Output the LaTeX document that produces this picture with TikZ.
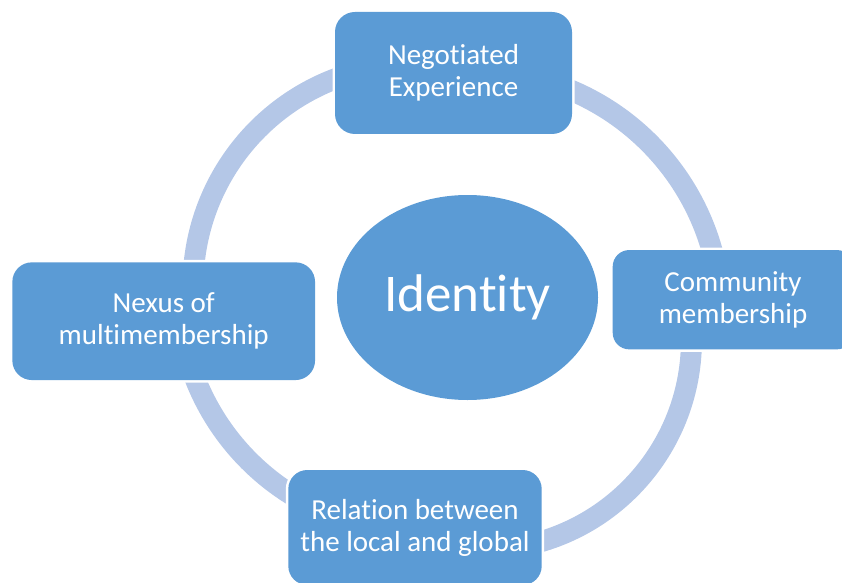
\documentclass[tikz,border=0pt]{standalone}
\usepackage{fontspec}
\setmainfont{Carlito}[Ligatures=NoCommon]
\usetikzlibrary{shapes.geometric,backgrounds}
\definecolor{boxblue}{HTML}{5B9BD5}
\definecolor{ringblue}{HTML}{B4C7E7}
\begin{document}
\begin{tikzpicture}[x=1pt,y=1pt,
  stagebox/.style={rectangle, rounded corners=#1, fill=boxblue, text=white,
    align=center, inner sep=0pt, font=\fontsize{29}{32}\selectfont,
    preaction={draw=white, line width=5pt}},
  hub/.style={ellipse, fill=boxblue, text=white, inner sep=0pt,
    font=\fontsize{53}{60}\selectfont},
  ring/.style={draw=ringblue, line width=21pt}
]
\useasboundingbox (0,0) rectangle (842,582);
\clip (0,0) rectangle (842,582);

% the four stages around the centre
\node[stagebox=20pt, minimum width=237pt, minimum height=122pt] (negot) at (453.5,509)
  {Negotiated\\Experience};
\node[stagebox=16.5pt, minimum width=240.6pt, minimum height=99.3pt] (commun) at (733,282.3)
  {Community\\membership};
\node[stagebox=19pt, minimum width=253.4pt, minimum height=115pt] (relat) at (415,54.5)
  {Relation between\\the local and global};
\node[stagebox=19.5pt, minimum width=302.7pt, minimum height=117.7pt] (nexus) at (163.7,260.8)
  {Nexus of\\multimembership};

% central ellipse
\node[hub, minimum width=261pt, minimum height=205pt] (ident) at (467.5,284.5) {Identity};

% centres of the four arcs linking the stages
\coordinate (tlc) at (414.4,296.4);
\coordinate (trc) at (475,265);
\coordinate (brc) at (481.6,241.6);
\coordinate (blc) at (418.6,290.9);

\begin{scope}[on background layer]
  % nexus -> negotiated experience
  \draw[ring] (tlc) ++(180:221.4) arc[start angle=180, end angle=108, radius=221.4];
  % negotiated experience -> community membership
  \draw[ring] (trc) ++(72:246.2) arc[start angle=72, end angle=10, radius=246.2];
  % community membership -> relation between the local and global
  \draw[ring] (brc) ++(5:209.8) arc[start angle=5, end angle=-80, radius=209.8];
  % relation between the local and global -> nexus
  \draw[ring] (blc) ++(243:240) arc[start angle=243, end angle=195, radius=240];
\end{scope}
\end{tikzpicture}
\end{document}
